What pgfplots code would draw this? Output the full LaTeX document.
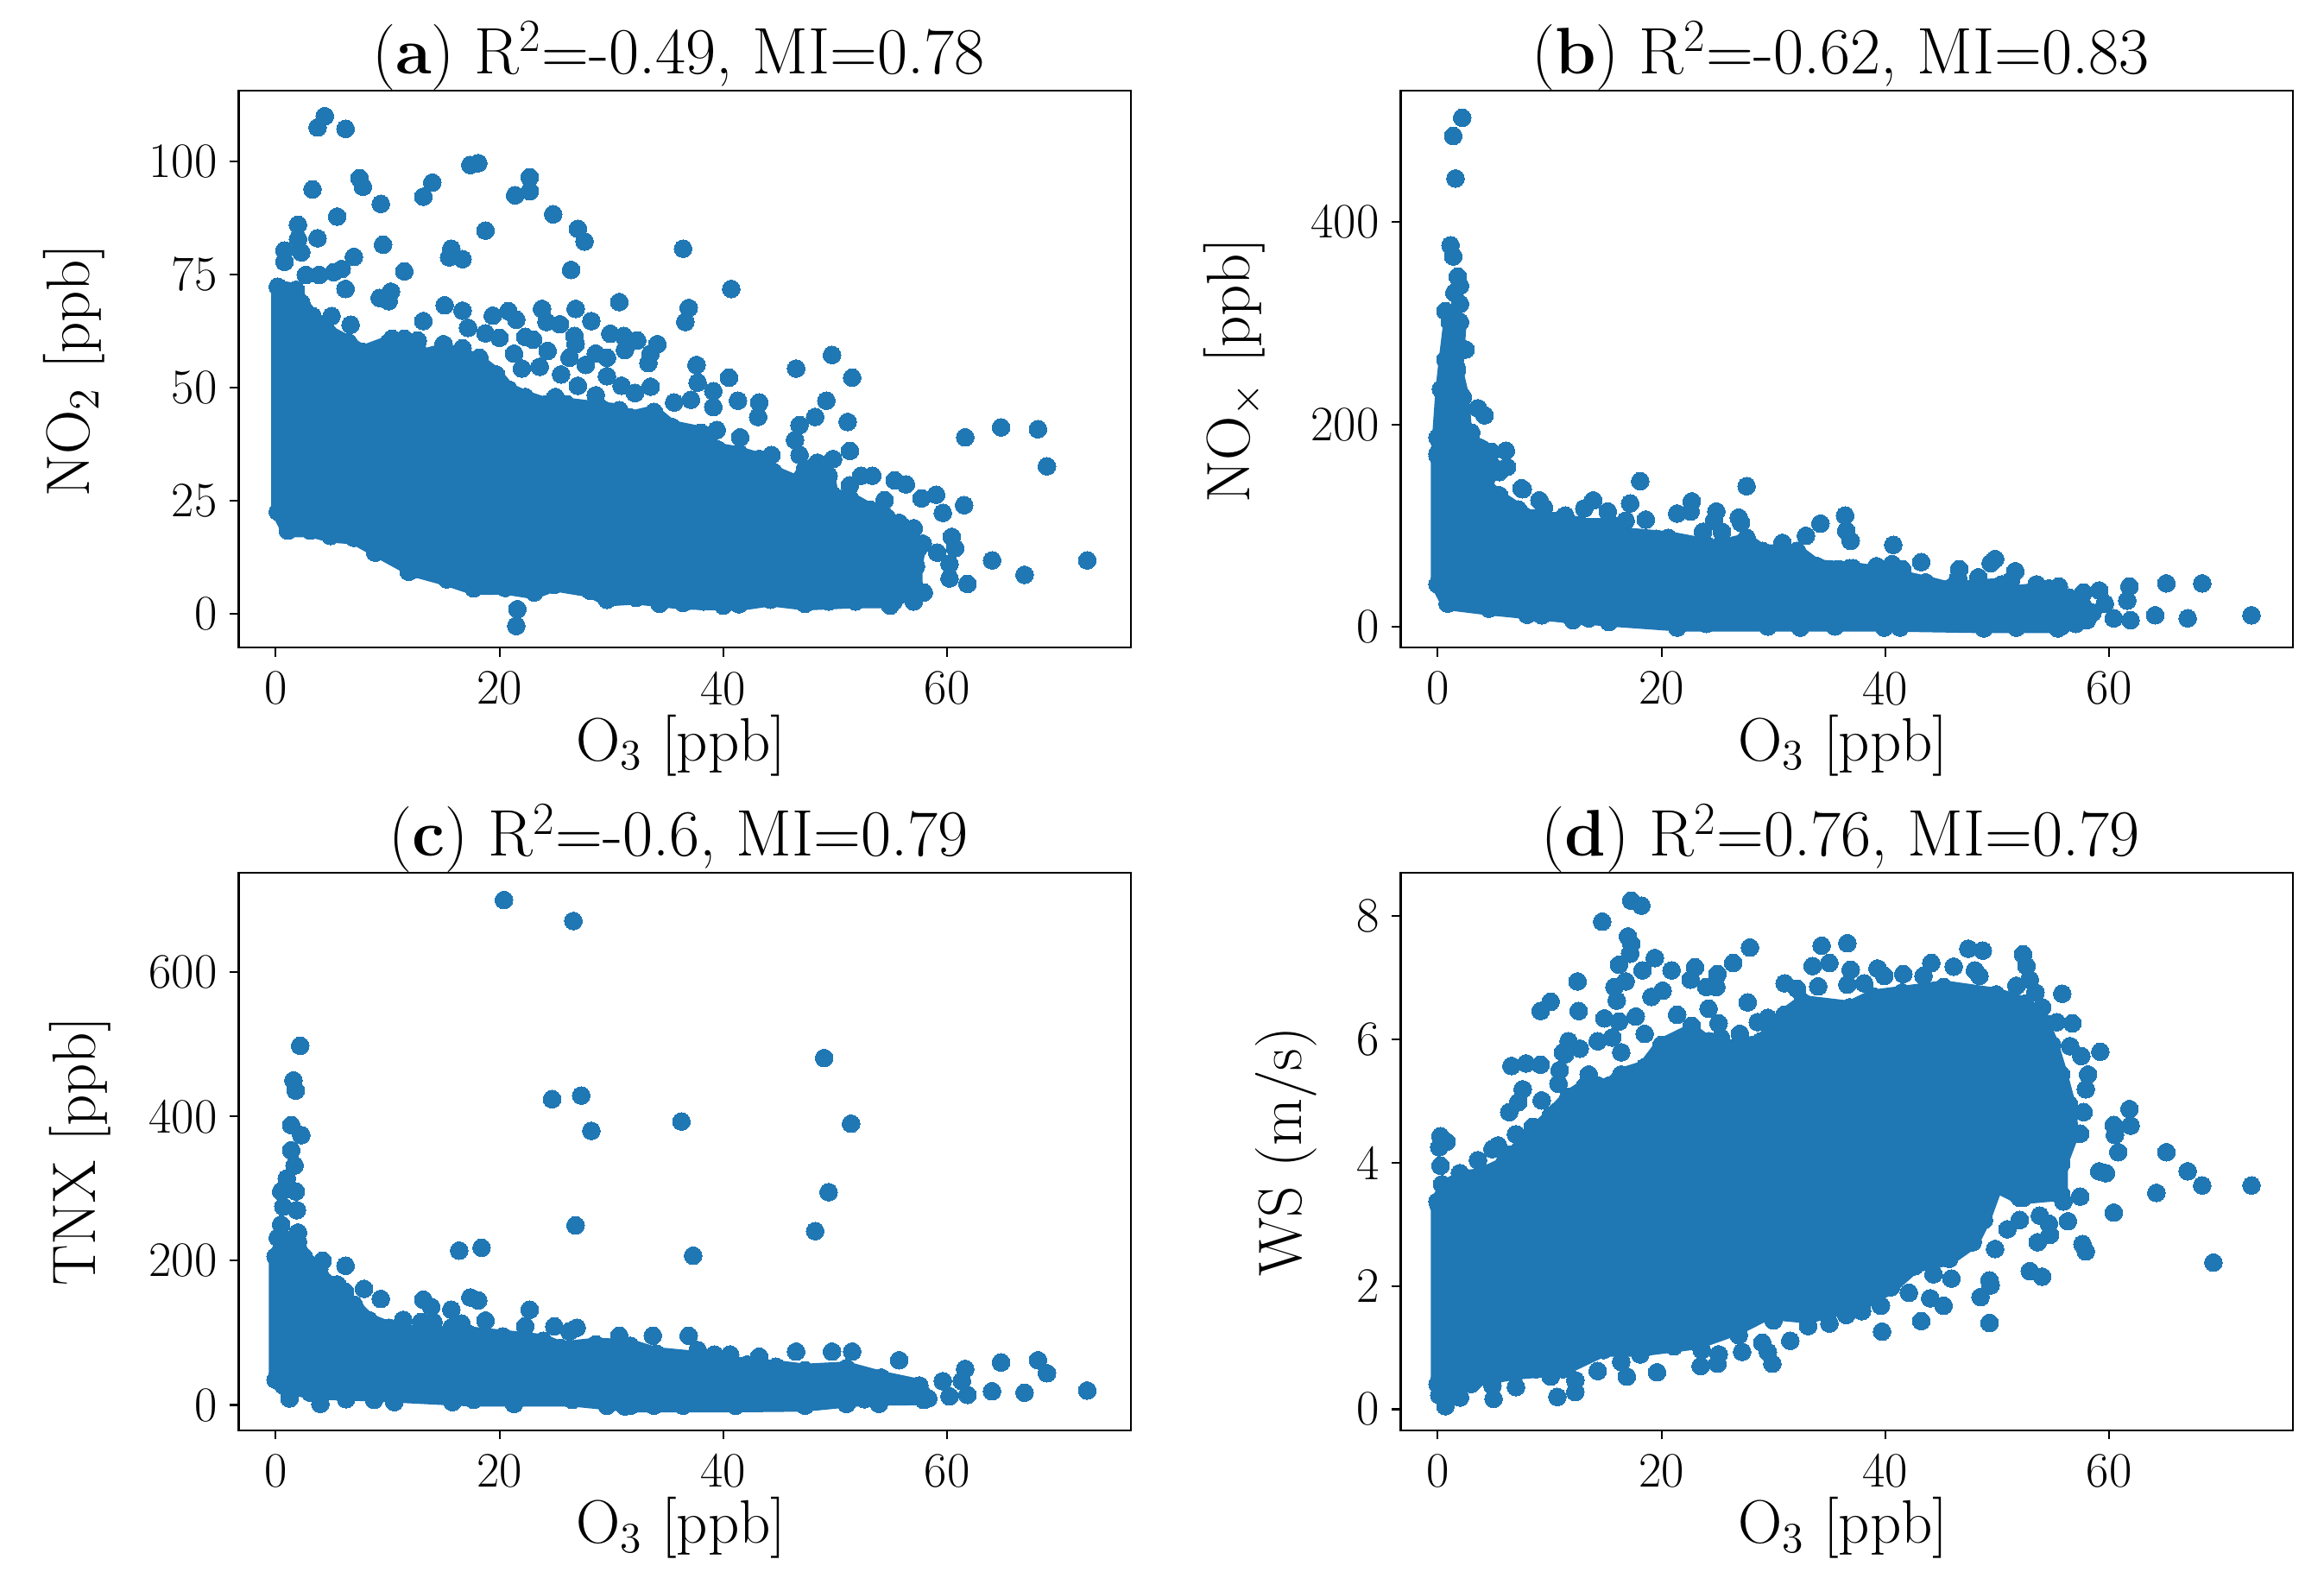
\documentclass[border=0pt]{standalone}
\usepackage{pgfplots}
\pgfplotsset{compat=1.18}
\definecolor{mplblue}{HTML}{1F77B4}
\newcommand{\fsz}[1]{\fontsize{#1}{#1}\selectfont}
\pgfplotsset{
  panel/.style={
    scale only axis, width=301pt, height=188pt,
    xmin=-3.3, xmax=76.4,
    xtick={0,20,40,60},
    tick align=outside, major tick length=3pt,
    tick style={black, line width=0.6pt},
    axis line style={line width=0.7pt},
    xtick pos=bottom, ytick pos=left,
    scaled ticks=false,
    /pgf/number format/assume math mode=true,
    ticklabel style={font=\fsz{16.7}},
    xticklabel style={yshift=-1.5pt},
    yticklabel style={xshift=-0.7pt},
    xlabel={O\textsubscript{3} [ppb]},
    xlabel style={font=\fsz{20.7}, at={(axis description cs:0.496,-0.175)}, anchor=center},
    title style={font=\fsz{22.2}, at={(axis description cs:0.493,0.998)}, anchor=base},
    clip=false,
  },
  % dense core of each cloud: outline runs through the centres of the outermost points
  blob/.style={draw=mplblue, line width=4.5pt, line join=round, fill=mplblue, mark=*, mark size=3pt,
    mark options={draw=mplblue, fill=mplblue, line width=0pt}},
  dots/.style={only marks, mark=*, mark size=3pt,
    mark options={draw=mplblue, fill=mplblue, line width=0pt}},
}
\begin{document}
\begin{tikzpicture}
\path[use as bounding box] (0,0) rectangle (784pt,536.5pt);

% (a)
\begin{axis}[panel, at={(80.5pt,318pt)}, anchor=south west,
  ymin=-7.5, ymax=115.7, ytick={0,25,50,75,100},
  ylabel={NO\textsubscript{2} [ppb]},
  ylabel style={font=\fsz{20.7}, at={(axis description cs:-0.184,0.497)}, anchor=center},
  title={(\textbf{a}) R\textsuperscript{2}=-0.49, MI=0.78}]
\addplot[blob] coordinates {
(0.2,72.3)(1.8,71.6)(2.3,68.7)(3.3,65.8)(4.6,62.5)(6.5,60)(7.8,57.9)(10.1,60)(12.7,60.4)(13,57)
(15,58.3)(16.6,57.5)(18.2,55.8)(19.7,52.9)(20.8,49.6)(22.3,47.9)(24.2,46.3)(25,47.9)(26,46.3)
(29.1,45.4)(30.7,45)(31.7,43.4)(33.8,44.6)(35.4,41.3)(38,40)(39.5,36.3)(41.4,35.5)(43.2,34.2)
(44.5,31.3)(46.5,29.2)(47.3,32.1)(48.4,33.4)(49.4,30.5)(49.7,26.3)(51.3,25.5)(53.1,23)(54.6,21.3)
(56.2,18.9)(57.5,14.7)(57.2,10.5)(57.2,5.6)(55.2,2.7)(51.8,2.7)(47.3,2.2)(44.2,3.1)(41.4,2.1)
(36.4,2.4)(32.2,3.5)(29.6,3.1)(28.1,5.1)(24.9,6.4)(23.1,4.7)(20.5,5.7)(17.7,5.6)(15.3,7.6)
(12.2,9.7)(9.1,13.9)(7,16.8)(4.9,17.2)(3.1,18.4)(1.1,18.4)(0.2,22.6)
} --cycle;
\addplot[dots] coordinates {
(4.4,110)(3.75,107.5)(6.25,107.2)(3.3,93.8)(7.5,96.3)(7.8,94.4)(9.4,90.6)(5.5,87.8)(2,86)(3.75,83)
(2,82.8)(2.3,79.9)(0.8,80.3)(0.8,77.8)(9.6,81.6)(7,78.9)(5.9,76.2)(5.2,75.5)(3.9,74.9)(2.7,74.9)
(11.5,75.7)(6.25,71.8)(10.3,71.2)(9.3,69.8)(10.1,69.1)(13.2,92.2)(14,95.3)(17.4,99.2)(18.1,99.6)
(22.7,96.5)(22.7,93.4)(21.4,92.5)(24.8,88.3)(27,85.1)(27.6,82.3)(18.75,84.7)(15.7,80.7)(15.5,78.8)
(16.7,78.4)(36.4,80.7)(26.4,76)(40.7,71.8)(30.7,68.9)(36.9,67.6)(36.6,64.5)(15.1,68.2)(16.7,67)
(19.4,65.9)(20.8,66.9)(23.8,67.4)(26.8,67.4)(28.2,64.7)(13.2,64.7)(6.7,63.9)(5,65.8)(21.5,65)
(24.2,64.5)(25.4,64)(17.2,63.2)(18.75,62)(20,61)(22.3,61.2)(23,60.6)(26.7,61.4)(29.9,61.9)
(31.1,61.4)(32.3,60.4)(34.1,59.6)(26.8,59.6)(31.2,58.3)(33.5,57.5)(33.3,55.4)(24.3,58.1)(21.3,57.5)
(28.6,57.5)(29.6,56.6)(27.7,55)(26.25,56.6)(25.5,52.9)(22,54.2)(23.6,54.6)(29.6,52.5)(37.6,55)
(40.5,52.2)(46.5,54.2)(49.7,57.2)(51.5,52.2)(37.7,51.1)(39.1,49.2)(35.6,46.7)(37.1,47.3)(39.1,45.7)
(41.3,47.1)(43.2,46.7)(43.1,43.5)(49.2,47.1)(48.2,43.5)(51.1,42.4)(46.8,41.7)(46.4,38.4)(46.8,35.1)
(51.3,36)(49.8,34.2)(33.5,50.2)(32.1,48.8)(30.9,50.4)(27,50.4)(28.6,48.3)(39.4,40.6)(41.5,39)
(44.3,35.1)(61.6,39)(64.8,41.2)(68.1,40.8)(68.9,32.6)(61.5,24)(59,26.3)(57.7,25.5)(59.6,22.3)
(56.3,28.6)(55.3,29.5)(53.3,30.5)(52.3,30.5)(54.4,25.1)(51.3,28.4)(60.4,17)(60.7,14.5)(59.1,13.5)
(60.2,11)(60.2,7.8)(61.8,6.6)(64,11.8)(66.9,8.6)(72.5,11.8)(57.8,15.5)(57,18.9)(55.7,20.1)(57.9,4.7)
(21.6,1)(21.5,-2.7)
(34.3,2.2)(38.2,2.7)(40,1.8)(49.4,2.7)(54.9,1.8)(57,2.7)(8.9,13.5)(11.9,9.3)
(10.4,60.8)(11.5,60.8)(15,59.6)(16.7,58.7)(18.2,56.6)
};
\end{axis}

% (b)
\begin{axis}[panel, at={(472.5pt,318pt)}, anchor=south west,
  ymin=-20.5, ymax=530, ytick={0,200,400},
  ylabel={NO$_\times$ [ppb]},
  ylabel style={font=\fsz{20.7}, at={(axis description cs:-0.186,0.497)}, anchor=center},
  title={(\textbf{b}) R\textsuperscript{2}=-0.62, MI=0.83}]
\addplot[blob] coordinates {
(0,42)(0,171)(0.4,234)(0.7,264)(1.1,301)(2,301)(1.7,253)(2.25,227)(2.5,190)(4.1,175)(5.1,157)(4.3,140)
(5.4,129)(7.2,116)(8.5,107)(11.2,107)(12.7,101)(15.6,101)(16.4,92)(20.6,88)(24,81)(25,79)(27.6,86)
(29,75)(32.1,75)(33.9,60)(36.8,58)(39.9,53)(43.6,44)(45.7,38)(50.4,42)(50.9,34)(54.6,38)(56.4,29)
(57.7,20)(58,6.7)(55.7,0.4)(48.8,0.4)(40,2)(35.5,2)(29.5,2)(21.6,2)(15.3,7)(11.9,10)(4.6,18)(0.9,23)
} --cycle;
\addplot[dots] coordinates {
(2.2,503)(1.4,485)(1.6,443)(1.15,377)(1.4,366)(1.8,346)(2,337)(2,319)(1.5,330)(0.7,312)(1.6,303)
(1.6,290)(2.5,274)(1.7,256)(0.3,235)(2.1,229)(3.6,216)(4.2,209)(3,192)(0,187)(0,169)(3.8,177)
(4.8,173)(6.1,174)(6.2,158)(5.5,153)(7.5,137)(7.6,136)(5.5,130)(9.1,125)(9.5,118)(13.9,125)(13.1,117)
(15.2,114)(11.4,110)(17.2,122)(18.1,144)(18.6,106)(16.8,105)(21.4,112)(22.7,124)(22.6,114)(24.9,114)
(24.7,105)(26.9,108)(27.1,103)(27.6,139)(23.7,94)(25.4,94)(32.9,90)(34.2,102)(36.4,110)(36.5,95)
(36.9,85)(40.7,81)(30.8,83)(43.2,64)(40.6,62)(39.2,60)(46.6,57)(46.5,48)(49.4,63)(49.8,67)(51.6,55)
(48.3,49)(51.2,45.5)(53.5,42)(55.5,40)(57.7,34)(59.1,36)(61.8,40)(61.6,26)(65.1,43)(68.3,43)(59.6,23)
(60.4,8.5)(61.9,6.7)(64.1,11.5)(67,8.5)(72.7,11.5)(21.4,-0.7)
(8,12)(9.3,11.5)(12.1,6.7)(13.5,8.5)(15.3,4.8)(18,7.8)(24,3)(29.5,0.4)(32.4,-0.7)(35.5,0.4)(39.9,-0.7)
(41.3,-0.7)(48.8,-1.5)(51.7,-0.7)(55.4,-1.5)(57,3)(58.5,14)(11.2,108)(20.6,88)(18.2,86)(19.5,87)(27.6,88)
(37.1,58)(35.8,57)(41.5,57)
};
\end{axis}

% (c)
\begin{axis}[panel, at={(80.5pt,54pt)}, anchor=south west,
  ymin=-35, ymax=737.6, ytick={0,200,400,600},
  ylabel={TNX [ppb]},
  ylabel style={font=\fsz{20.7}, at={(axis description cs:-0.178,0.5)}, anchor=center},
  title={(\textbf{c}) R\textsuperscript{2}=-0.6, MI=0.79}]
\addplot[blob] coordinates {
(0,35)(0,206)(0.7,231)(2,226)(2.5,206)(3.9,188)(4.6,169)(5.4,149)(7,139)(8.3,118)(10.1,107)(13,100)
(17.1,100)(20.3,95)(23.9,89)(25.5,79)(28.6,84)(31.7,82)(34,71)(37.4,66)(42.1,56)(44.7,53)(47.3,48)
(51,51)(54.1,38)(57.5,27)(58.3,9)(52.6,8)(47.3,0)(41.1,-1)(31.7,-1)(26.5,7)(17.7,7)(8.8,14)(3.1,17)(0.7,27)
} --cycle;
\addplot[dots] coordinates {
(20.4,700)(26.6,671)(2.2,498)(1.6,450)(1.8,436)(24.7,424)(27.3,429)(28.2,380)(36.25,393)(49,481)
(51.4,390)(49.4,295)(48.2,241)(26.8,249)(37.3,207)(16.4,214)(18.4,218)(1.4,388)(2.3,374)(1.4,353)
(1.7,332)(0.5,296)(1,314)(1.8,296)(1.9,270)(0.7,275)(0.5,250)(2,239)(0.2,232)(4.2,200)(6.25,193)
(5.5,167)(7.9,161)(6.2,157)(9.4,147)(13.2,146)(13.9,136)(15.7,132)(17.4,149)(18.1,145)(18.75,117)
(22.7,132)(24.9,109)(26.9,107)(26.25,102)(22.3,109)(30.7,96)(33.7,96)(36.9,96)(46.5,74)(49.7,74)
(51.5,74)(43.2,67)(40.6,70)(39.2,70)(37.7,76)(55.7,62)(61.6,50)(64.8,59)(68.1,62)(68.9,44)(64,19)
(66.9,17)(72.5,20)(61.8,14)(60.2,12)(59.6,33)(61.3,33)(1.25,9)(4,1.5)(6.3,8)(31.2,-2)(15.7,107)
(14.1,115)(11.4,118)(13,115)(16.6,113)
(8.8,7)(10.6,4)(15.8,4)(21.3,1.5)(29.6,-1)(33.8,-1)(36.4,-1)(47.3,-1)(51,1.5)(53.9,1.5)(57.9,7)
};
\end{axis}

% (d)
\begin{axis}[panel, at={(472.5pt,54pt)}, anchor=south west,
  ymin=-0.34, ymax=8.7, ytick={0,2,4,6,8},
  ylabel={WS (m/s)},
  ylabel style={font=\fsz{20.7}, at={(axis description cs:-0.128,0.5)}, anchor=center},
  title={(\textbf{d}) R\textsuperscript{2}=0.76, MI=0.79}]
\addplot[blob] coordinates {
(0,0.41)(0,3.37)(0.7,3.62)(2.25,3.77)(3.8,3.8)(5.9,3.98)(8,4.4)(10.1,4.76)(11.7,5.07)(13.2,5.25)
(15.3,5.25)(16.4,5.43)(18.5,5.55)(20,5.91)(22.7,6.15)(24.8,5.85)(28.9,5.97)(31,6.4)(32.6,6.61)
(36.8,6.52)(38.9,6.7)(41.5,6.76)(45.2,6.85)(49.9,6.73)(52.5,6.58)(54.1,6.28)(54.9,5.91)(55.7,5.43)
(56.4,4.95)(56.7,4.46)(55.7,3.98)(55.7,3.49)(52,3.43)(49.9,3.62)(48.8,3.07)(47.8,2.71)(45.7,2.44)
(42.6,2.32)(40.5,1.98)(37.9,1.71)(33.1,1.5)(29.5,1.56)(26.9,1.32)(23.2,1.08)(18,0.96)(14.8,0.96)
(11.2,0.65)(7,0.59)(3.3,0.47)(0.7,0.17)
} --cycle;
\addplot[dots] coordinates {
(17.3,8.25)(18.2,8.17)(14.7,7.91)(17,7.67)(17.3,7.55)(17.2,7.39)(16.2,7.21)(19.4,7.32)(18.3,7.12)
(20.9,7.12)(23,7.17)(25,7.06)(26.4,7.24)(27.9,7.49)(22.6,6.97)(24,6.85)(24.9,6.85)(12.5,6.94)(16.8,6.94)
(15.8,6.85)(16,6.63)(10.1,6.61)(9.2,6.46)(12.6,6.46)(19.1,6.69)(20.1,6.79)(14.9,6.34)(16.2,6.29)
(17.7,6.37)(21.4,6.4)(24.2,6.5)(27.7,6.6)(25.1,6.26)(29.5,6.35)(28.6,6.28)(27,6.09)(31,6.91)(32.1,6.82)
(34,6.86)(33.5,7.19)(34.3,7.52)(35,7.24)(36.6,7.56)(36.9,7.13)(36.6,6.89)(38.1,6.91)(39.3,7.15)
(39.9,7.03)(41.6,7.06)(43.4,7.03)(44.1,7.24)(46.1,7.18)(47.4,7.47)(48.7,7.44)(48,7.12)(48.4,7.03)
(52.3,7.38)(52.6,7.19)(52.9,6.97)(51.7,6.87)(53.4,6.76)(55.8,6.74)(54,6.52)(55.3,6.28)(56.7,6.26)
(56.5,5.89)(57.5,5.73)(59.2,5.8)(58.1,5.43)(57.9,5.19)(57.7,4.82)(57.4,4.47)(61.8,4.87)(60.4,4.61)
(61.9,4.6)(60.5,4.45)(60.8,4.17)(65.1,4.17)(67,3.86)(68.3,3.63)(72.7,3.63)(64.2,3.51)(59.1,3.86)
(59.7,3.83)(57.4,3.45)(60.4,3.19)(56.3,3.05)(54.6,3.01)(53.8,3.14)(54.7,2.83)(53.6,2.71)(57.6,2.68)
(57.9,2.56)(49.8,2.6)(69.3,2.38)(52.9,2.24)(54,2.15)(49.3,2.09)(49.4,2.01)(48.5,1.82)(49.3,1.4)
(45.9,2.12)(44.3,2.19)(42.1,1.89)(44,1.8)(45.2,1.68)(43.2,1.43)(39.7,1.26)(39.6,1.68)(50.9,2.92)
(52,3.07)(52.3,3.43)(55.9,3.37)(37.9,1.59)(36.5,1.53)(35,1.39)(33.1,1.35)(31.5,1.11)(30,1.44)(29,1.08)
(29.5,0.93)(29.9,0.74)(27.2,0.93)(26.9,1.2)(25.1,0.89)(25,0.74)(23.5,0.7)(23.6,0.96)(21.1,1.02)
(19.6,0.6)(18.1,0.89)(16.9,0.53)(16.4,0.77)(14.3,0.62)(12.3,0.47)(12.3,0.28)(10.7,0.2)(10.1,0.53)
(8.8,0.65)(7,0.36)(5,0.17)(4.9,0.38)(3,0.41)(2,0.19)(0.7,0.05)(0.15,0.23)(0.26,4.43)(0.15,4.25)
(0.8,4.34)(0.26,3.95)(0.05,3.33)(0.4,3.65)(2,3.83)(3.6,4.04)(4.9,4.22)(5.4,4.28)(6.4,4.13)(7,4.46)
(6.4,4.82)(7.6,5.19)(7.2,4.98)(9.3,5.01)(6.6,5.57)(7.9,5.61)(9.2,5.59)(10.9,5.5)(10.8,5.28)(11.7,5.97)
(11.4,5.76)(13.5,5.43)(14.3,5.97)(15.6,6.03)(15.9,5.25)
(11.2,5.79)(12.7,5.85)(16.4,5.79)(18.5,6.09)(20.6,5.91)(22.7,6.22)(24.2,5.97)(25.3,6.03)(26.9,5.91)
(8.5,4.58)(10.6,4.82)(12.7,4.95)(14.3,5.25)
};
\end{axis}
\end{tikzpicture}
\end{document}
